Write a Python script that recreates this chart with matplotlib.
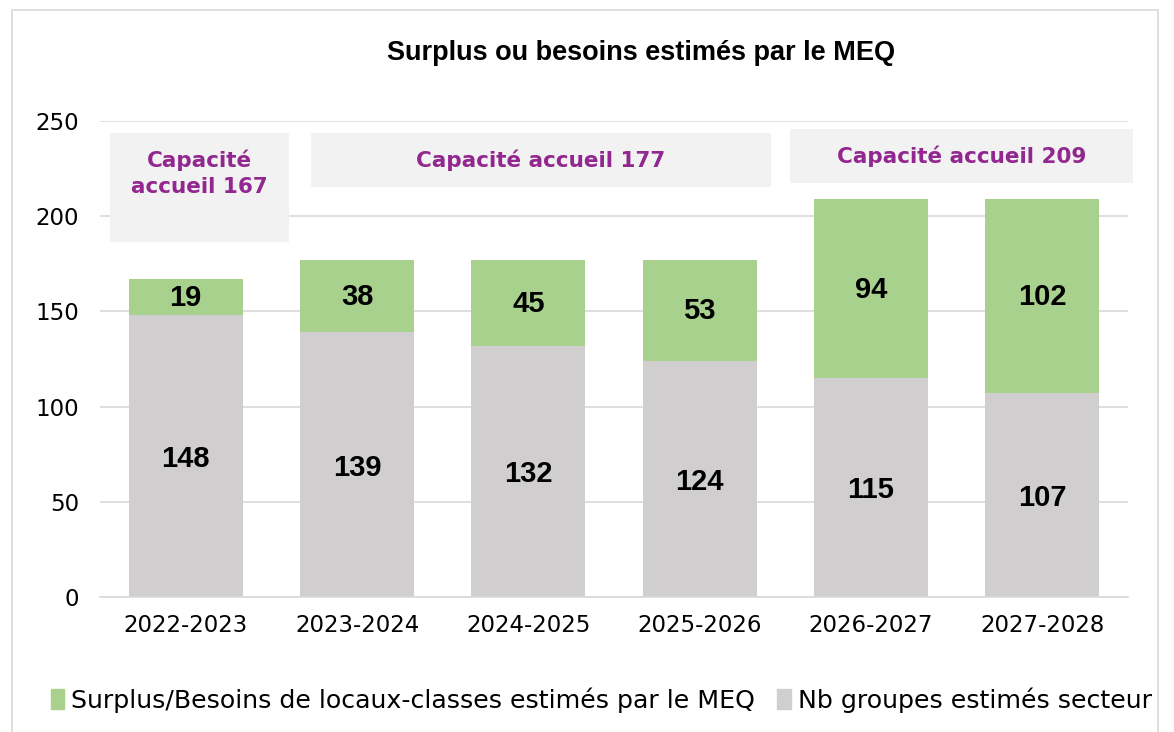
import matplotlib.pyplot as plt
from matplotlib.patches import Rectangle, Patch

years = ["2022-2023", "2023-2024", "2024-2025", "2025-2026", "2026-2027", "2027-2028"]
groupes = [148, 139, 132, 124, 115, 107]
surplus = [19, 38, 45, 53, 94, 102]
capacites = [167, 177, 209]

green = "#A9D18E"
grey = "#D0CECE"
purple = "#92278F"
box_bg = "#F2F2F2"
gothic = "DejaVu Sans"

fig = plt.figure(figsize=(11.74, 7.32), dpi=100)
ax = fig.add_axes([0.0852, 0.1844, 0.8756, 0.6503])

x = range(len(years))
ax.bar(x, groupes, width=0.667, color=grey, zorder=2)
ax.bar(x, surplus, width=0.667, bottom=groupes, color=green, zorder=2)

for i in x:
    ax.text(i, groupes[i] / 2 - 1.5, str(groupes[i]), ha="center", va="center",
            fontsize=21, fontweight="bold", family="Liberation Sans", zorder=3)
    ax.text(i, groupes[i] + surplus[i] / 2 - 0.5, str(surplus[i]), ha="center",
            va="center", fontsize=21, fontweight="bold", family="Liberation Sans",
            zorder=3)

ax.set_xlim(-0.5, 5.5)
ax.set_ylim(0, 250)
ax.set_yticks(range(0, 251, 50))
ax.set_xticks(list(x))
ax.set_xticklabels(years)
ax.grid(axis="y", color="#D9D9D9", linewidth=1.2, zorder=0)
for s in ["top", "right", "left"]:
    ax.spines[s].set_visible(False)
ax.spines["bottom"].set_color("#D9D9D9")
ax.spines["bottom"].set_linewidth(1.2)
ax.tick_params(length=0, labelsize=16.5, pad=12)
ax.tick_params(axis="y", pad=15)
for lab in ax.get_xticklabels() + ax.get_yticklabels():
    lab.set_family(gothic)

# capacity boxes (figure pixel coords)
W, H = 1174, 732
boxes = [(110, 133, 289, 242, f"Capacité\naccueil {capacites[0]}", 173),
         (311, 133, 771, 187, f"Capacité accueil {capacites[1]}", 160),
         (790, 129, 1133, 183, f"Capacité accueil {capacites[2]}", 156)]
for x0, y0, x1, y1, txt, ty in boxes:
    fig.patches.append(Rectangle((x0 / W, 1 - y1 / H), (x1 - x0) / W, (y1 - y0) / H,
                                 transform=fig.transFigure, facecolor=box_bg,
                                 edgecolor="none", zorder=4))
    fig.text((x0 + x1) / 2 / W, 1 - ty / H, txt, ha="center", va="center",
             fontsize=15.5, fontweight="bold", color=purple, family=gothic,
             linespacing=1.35, zorder=5)

fig.text(0.546, 1 - 53 / H, "Surplus ou besoins estimés par le MEQ", ha="center",
         va="center", fontsize=19.5, fontweight="bold", family="Liberation Sans")

handles = [Patch(color=green), Patch(color=grey)]
fig.legend(handles, ["Surplus/Besoins de locaux-classes estimés par le MEQ",
                     "Nb groupes estimés secteur"],
           loc="center", bbox_to_anchor=(0.512, 1 - 700 / H), ncol=2, frameon=False,
           prop={"family": gothic, "size": 18.2}, handlelength=0.55, handleheight=0.8,
           handletextpad=0.25, columnspacing=0.9)

fig.patches.append(Rectangle((12 / W, -0.01), 1146 / W, 1 - 10 / H + 0.01,
                             transform=fig.transFigure, facecolor="none",
                             edgecolor="#D9D9D9", linewidth=1.2))

fig.savefig("out.png", dpi=100)
